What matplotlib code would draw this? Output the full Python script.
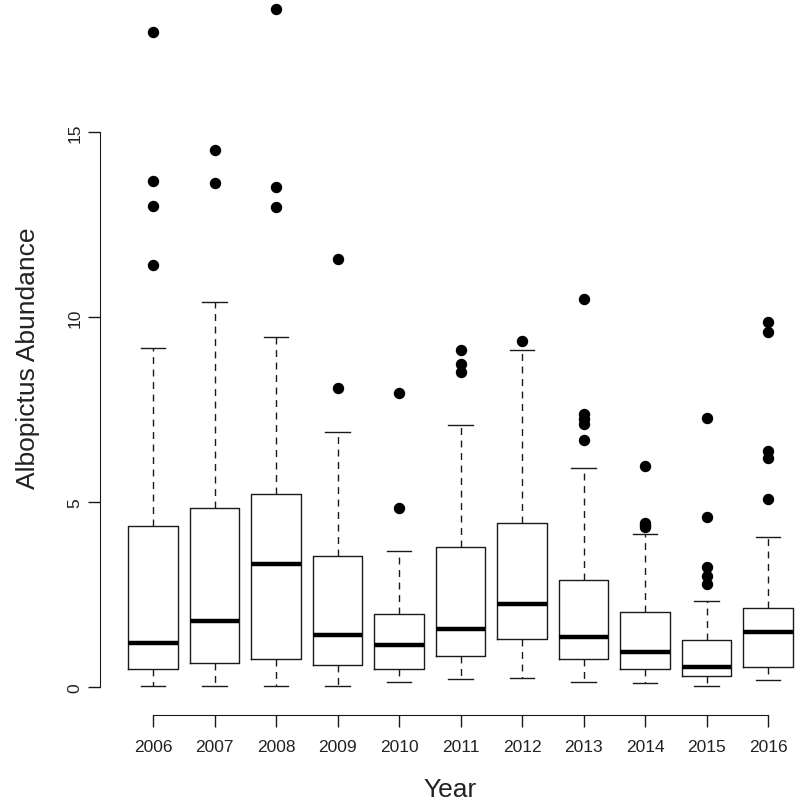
import numpy as np
import matplotlib.pyplot as plt

plt.rcParams['font.family'] = ['Liberation Sans', 'DejaVu Sans']

years = ["2006", "2007", "2008", "2009", "2010", "2011",
         "2012", "2013", "2014", "2015", "2016"]
whislo = [0.04, 0.04, 0.04, 0.02, 0.13, 0.23, 0.24, 0.14, 0.11, 0.04, 0.18]
q1 = [0.49, 0.64, 0.77, 0.59, 0.50, 0.84, 1.30, 0.77, 0.50, 0.29, 0.54]
med = [1.20, 1.79, 3.32, 1.41, 1.13, 1.57, 2.24, 1.34, 0.94, 0.53, 1.48]
q3 = [4.34, 4.83, 5.21, 3.53, 1.96, 3.77, 4.43, 2.90, 2.02, 1.26, 2.13]
whishi = [9.17, 10.39, 9.47, 6.89, 3.67, 7.08, 9.11, 5.93, 4.14, 2.32, 4.05]
outliers = [
    [17.69, 13.68, 13.0, 11.40],
    [14.52, 13.61],
    [18.32, 13.52, 12.97],
    [11.57, 8.08],
    [7.95, 4.85],
    [9.11, 8.72, 8.51],
    [9.34],
    [10.49, 7.37, 7.25, 7.11, 6.67],
    [5.97, 4.43, 4.38, 4.33],
    [7.28, 4.59, 3.23, 3.01, 2.79],
    [9.85, 9.58, 6.37, 6.20, 5.08],
]

stats = []
for i, y in enumerate(years):
    stats.append(dict(label=y, whislo=whislo[i], q1=q1[i], med=med[i],
                      q3=q3[i], whishi=whishi[i], fliers=outliers[i]))

fig = plt.figure(figsize=(8, 8.03), dpi=100)
ax = fig.add_axes([0.125, 0.1083, 0.875, 0.8917])

ink = "#1a1a1a"
ax.bxp(stats, positions=np.arange(1, len(years) + 1), widths=0.8,
       showfliers=True,
       boxprops=dict(color=ink, linewidth=1.0),
       medianprops=dict(color="black", linewidth=3.2, solid_capstyle="butt"),
       whiskerprops=dict(color=ink, linewidth=1.0, linestyle=(0, (5, 4))),
       capprops=dict(color=ink, linewidth=1.0),
       capwidths=0.4,
       flierprops=dict(marker="o", markerfacecolor="black",
                       markeredgecolor="black", markersize=7.2))

ax.set_xlim(0.138, 11.52)
ax.set_ylim(-0.757, 18.59)

for s in ["top", "right"]:
    ax.spines[s].set_visible(False)
ax.spines["left"].set_bounds(0, 15)
ax.spines["bottom"].set_bounds(1, 11)
ax.spines["left"].set_color(ink)
ax.spines["bottom"].set_color(ink)

ax.set_yticks([0, 5, 10, 15])
ax.set_yticklabels(["0", "5", "10", "15"], rotation=90, va="center")
ax.set_xticks(np.arange(1, len(years) + 1))
ax.set_xticklabels(years)
ax.tick_params(axis="both", length=8.5, width=1.0, color=ink,
               labelsize=12.5, labelcolor="#222222")
ax.tick_params(axis="x", pad=9)
ax.tick_params(axis="y", pad=4)

ax.set_xlabel("Year", fontsize=19, labelpad=16, color="#222222")
ax.set_ylabel("Albopictus Abundance", fontsize=19, labelpad=20, color="#222222")

fig.savefig("out.png", dpi=100)
